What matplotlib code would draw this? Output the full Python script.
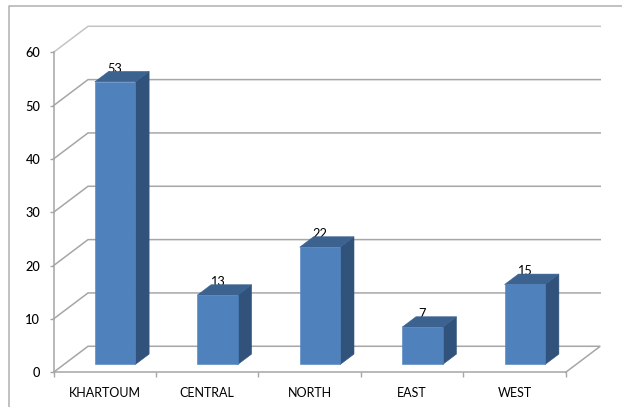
import matplotlib
matplotlib.use('Agg')
import matplotlib.pyplot as plt
from matplotlib.lines import Line2D

regions = ['KHARTOUM', 'CENTRAL', 'NORTH', 'EAST', 'WEST']
counts = [53, 13, 22, 7, 15]
y_ticks = [0, 10, 20, 30, 40, 50, 60]

FRONT = '#4F81BD'
SIDE = '#31527B'
TOP = '#3C6390'
EDGE = '#A6A6A6'
FONT = 'Lato'

# oblique projection of the depth axis, in data units
SHIFT_X = 0.337
SHIFT_Y = 4.88
BAR_START = 0.30
BAR_DEPTH = 0.40
BAR_WIDTH = 0.395


def project(x, y, depth):
    return x + SHIFT_X * depth, y + SHIFT_Y * depth


def face(ax, corners, color, zorder=3):
    pts = [project(*c) for c in corners]
    ax.fill([p[0] for p in pts], [p[1] for p in pts], color=color, lw=0.4,
            zorder=zorder, clip_on=False)


def draw_bar(ax, center, value):
    x0 = center - BAR_WIDTH / 2
    x1 = center + BAR_WIDTH / 2
    d0 = BAR_START
    d1 = BAR_START + BAR_DEPTH
    face(ax, [(x1, 0, d0), (x1, 0, d1), (x1, value, d1), (x1, value, d0)], SIDE)
    face(ax, [(x0, value, d0), (x1, value, d0), (x1, value, d1), (x0, value, d1)], TOP)
    face(ax, [(x0, 0, d0), (x1, 0, d0), (x1, value, d0), (x0, value, d0)], FRONT)
    # value sits just behind the top face of the bar
    tx, ty = project(center, value, d0)
    ax.text(tx - 0.005, ty + 2.45, str(value), ha='center', va='center', fontsize=9.2,
            family=FONT, color='black', zorder=2, clip_on=False)


def draw_walls(ax, n):
    for v in y_ticks:
        color = '#C4C4C4' if v == 60 else EDGE
        xs, ys = zip(project(0, v, 0), project(0, v, 1), project(n, v, 1))
        if v == 0:
            # the floor also closes on the right hand side
            xs, ys = zip(project(0, v, 0), project(0, v, 1), project(n, v, 1), project(n, v, 0))
        ax.plot(xs, ys, color=color, lw=1.1, zorder=1, clip_on=False,
                solid_joinstyle='miter')


def main():
    fig = plt.figure(figsize=(6.22, 4.07), dpi=100, facecolor='white')
    ax = fig.add_axes([53.5 / 622, (407 - 372.3) / 407, 512.2 / 622, 320 / 407])
    ax.patch.set_visible(False)
    n = len(regions)
    ax.set_xlim(0, n)
    ax.set_ylim(0, 60)

    # chart area frame, open to the right and bottom edges
    fig.add_artist(Line2D([8.5 / 622, 8.5 / 622, 1], [0, 1 - 6 / 407, 1 - 6 / 407],
                          color='#B0B0B0', lw=1.1))

    draw_walls(ax, n)
    centers = [i + 0.5 for i in range(n)]
    for center, value in zip(centers, counts):
        draw_bar(ax, center, value)

    ax.spines['top'].set_visible(False)
    ax.spines['right'].set_visible(False)
    for side in ['left', 'bottom']:
        ax.spines[side].set_color(EDGE)
        ax.spines[side].set_linewidth(1.1)

    ax.set_yticks(y_ticks)
    ax.set_xticks(range(n + 1))
    ax.set_xticklabels([])
    ax.set_xticks(centers, minor=True)
    ax.set_xticklabels(regions, minor=True, fontsize=9.0, family=FONT)
    ax.tick_params(axis='x', which='major', length=3.6, width=1.0, color=EDGE)
    ax.tick_params(axis='x', which='minor', length=0, pad=10.5, labelcolor='black')
    ax.tick_params(axis='y', length=3, width=1.0, color=EDGE, pad=6.5, labelsize=9.2)
    for label in ax.get_yticklabels():
        label.set_family(FONT)
        label.set_fontweight('medium')

    fig.savefig('out.png', dpi=100)


if __name__ == '__main__':
    main()
